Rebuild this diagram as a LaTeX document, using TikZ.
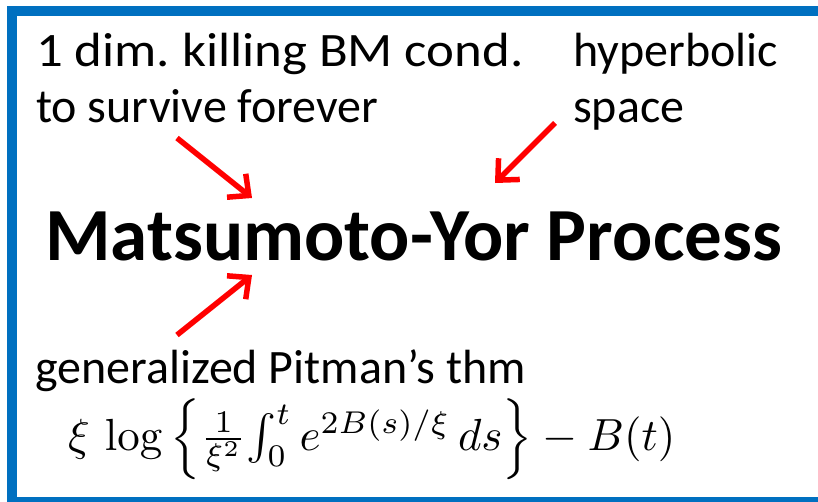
\documentclass[tikz,border=0pt]{standalone}
\usepackage{amsmath}
\usepackage[no-math]{fontspec}
\setmainfont{Carlito}
\usetikzlibrary{arrows.meta}
\definecolor{frameblue}{HTML}{0070C0}
\definecolor{pointred}{HTML}{FF0000}
\newcommand{\LabelFont}{\fontsize{48}{58}\selectfont\frenchspacing}
\newcommand{\TitleFont}{\fontsize{75}{88}\selectfont\bfseries}

\begin{document}
\begin{tikzpicture}[x=1pt,y=-1pt,
    lbl/.style={anchor=base west,inner sep=0pt,font=\LabelFont},
    pointer/.style={-{Straight Barb[length=16pt,width=30pt]},line width=5.5pt,pointred}]
  \useasboundingbox (0,0) rectangle (818,501);
  \draw[frameblue,line width=10pt] (12,11) rectangle (840,502);
  % labels
  \node[lbl] (kill) at (36,66) {\scalebox{1.1}[1]{1 dim. killing BM cond.}};
  \node[lbl] (survive) at (36,122) {to survive forever};
  \node[lbl] (hyper) at (573,66) {hyperbolic};
  \node[lbl] (space) at (573,122) {space};
  \node[lbl,font=\TitleFont] (title) at (45,260) {Matsumoto-Yor Process};
  \node[lbl] (pitman) at (35,383) {generalized Pitman's thm};
  \node[anchor=base west,inner sep=0pt] (formula) at (68,450)
    {\scalebox{4.5}{$\xi\,\log\left\{\frac{1}{\xi^2}\!\int_0^t e^{2B(s)/\xi}\,ds\right\}-B(t)$}};
  % pointers
  \coordinate (killtail) at (177,138);
  \coordinate (killtip) at (252,198);
  \coordinate (hyptail) at (555,123);
  \coordinate (hyptip) at (495,183);
  \coordinate (pittail) at (177,335);
  \coordinate (pittip) at (252,275);
  \draw[pointer] (killtail) -- (killtip);
  \draw[pointer] (hyptail) -- (hyptip);
  \draw[pointer] (pittail) -- (pittip);
\end{tikzpicture}
\end{document}
